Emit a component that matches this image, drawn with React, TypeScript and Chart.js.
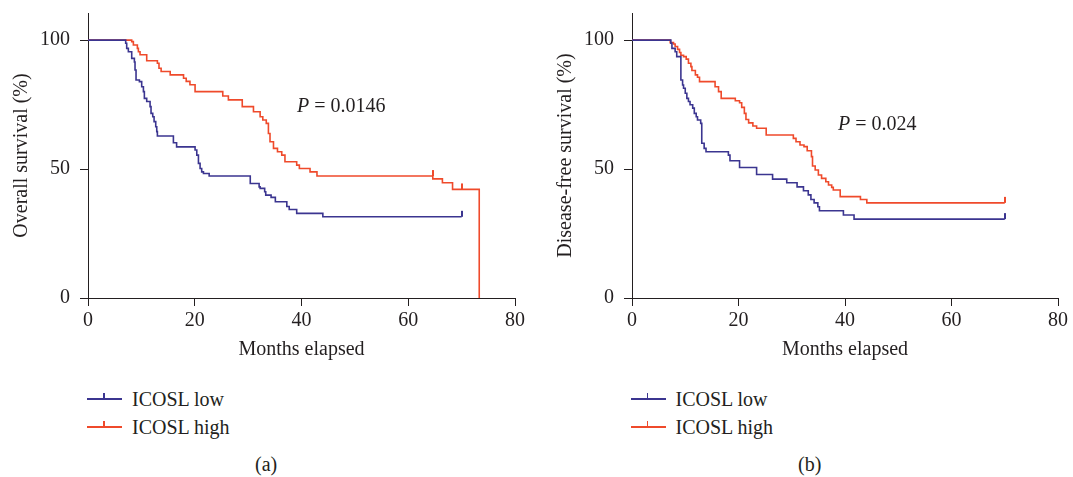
import React, { useEffect, useRef } from 'react';
import { Chart, registerables } from 'chart.js';

Chart.register(...registerables);

const BLUE = '#3b3590';
const RED = '#ef4a2b';
const TEXT = '#231f20';
const FONT_FAMILY = "'Liberation Serif', 'Times New Roman', serif";

const monthTicks = [0, 20, 40, 60, 80];
const survivalTicks = [0, 50, 100];
const seriesLabels = ['ICOSL low', 'ICOSL high'];

// Overall survival, ICOSL low
const osLowMonths = [0, 7.06, 7.25, 7.56, 8.19, 8.69, 8.81, 9.0, 9.63, 10.06, 10.38, 10.56, 11.0, 11.63, 11.81, 12.13, 12.38, 12.69, 12.88, 13.0, 16.0, 16.6, 20.06, 20.38, 20.69, 21.0, 21.3, 21.63, 22.7, 30.4, 32.06, 32.25, 33.1, 33.3, 34.3, 35.1, 37.25, 37.7, 39.1, 44.0, 70];
const osLowSurvival = [100, 98.8, 96.8, 95.5, 92.9, 91.5, 88.4, 84.5, 83.9, 81.9, 80.0, 77.4, 76.2, 74.2, 71.6, 70.3, 68.4, 66.4, 64.5, 62.8, 60.2, 58.6, 57.4, 55.4, 52.2, 50.2, 48.9, 48.3, 47.3, 44.4, 43.1, 42.5, 41.2, 39.9, 39.0, 37.3, 35.5, 34.3, 32.8, 31.5, 31.5];
const osLowCensorMonths = [70];
const osLowCensorSurvival = [31.5];

// Overall survival, ICOSL high
const osHighMonths = [0, 8.19, 8.5, 9.25, 9.44, 9.75, 11.0, 13.0, 13.3, 13.7, 15.4, 17.9, 18.4, 19.1, 20.06, 25.25, 26.3, 28.9, 31.0, 32.25, 32.75, 33.4, 33.8, 34.1, 34.75, 35.5, 36.3, 36.9, 39.1, 39.6, 41.6, 42.9, 64.6, 66.4, 68.3, 73.3];
const osHighSurvival = [100, 99.4, 98.1, 96.8, 95.5, 94.3, 92.0, 91.0, 89.1, 87.8, 86.5, 85.2, 84.0, 82.7, 80.0, 78.3, 76.8, 74.2, 72.2, 70.3, 69.0, 67.7, 63.8, 60.6, 58.0, 56.7, 55.4, 52.8, 51.5, 50.2, 48.9, 47.3, 46.2, 44.7, 42.1, 0];
const osHighCensorMonths = [64.6, 70];
const osHighCensorSurvival = [47.3, 42.1];

// Disease-free survival, ICOSL low
const dfsLowMonths = [0, 7.3, 7.5, 8.1, 8.4, 9.18, 9.5, 9.68, 10.0, 10.3, 10.6, 10.9, 11.4, 11.7, 12.06, 12.3, 12.9, 13.1, 13.55, 13.9, 18.1, 18.4, 20.2, 23.4, 26.4, 29.06, 31.0, 32.2, 33.1, 33.6, 34.2, 34.9, 35.2, 39.7, 41.7, 70];
const dfsLowSurvival = [100, 98.8, 96.8, 95.5, 93.6, 84.5, 82.6, 81.3, 79.4, 77.4, 76.2, 74.9, 73.6, 71.6, 70.3, 69.0, 67.7, 60.0, 58.0, 56.7, 55.4, 53.2, 50.6, 47.9, 46.1, 44.7, 43.1, 41.6, 40.0, 38.2, 36.9, 35.4, 33.8, 32.2, 30.6, 30.6];
const dfsLowCensorMonths = [70];
const dfsLowCensorSurvival = [30.6];

// Disease-free survival, ICOSL high
const dfsHighMonths = [0, 7.18, 7.8, 8.1, 8.56, 8.93, 9.18, 9.68, 10.18, 10.6, 11.06, 11.25, 11.9, 12.3, 12.68, 15.6, 16.25, 16.75, 19.4, 20.2, 20.6, 21.1, 21.4, 21.9, 22.7, 23.4, 25.2, 30.3, 30.8, 31.55, 32.3, 32.9, 33.7, 33.9, 34.4, 35.0, 35.6, 36.4, 36.9, 37.5, 37.8, 39.1, 42.9, 44.1, 70];
const dfsHighSurvival = [100, 99.0, 98.5, 97.5, 96.4, 95.2, 94.1, 93.6, 92.6, 91.0, 89.7, 88.2, 86.5, 85.6, 83.9, 81.9, 80.0, 77.4, 76.5, 75.7, 73.9, 71.6, 69.2, 67.9, 66.7, 65.8, 63.2, 61.9, 60.6, 59.3, 58.7, 57.1, 54.8, 51.2, 49.6, 47.7, 46.4, 45.1, 43.8, 42.9, 41.9, 39.3, 38.2, 36.9, 36.9];
const dfsHighCensorMonths = [70];
const dfsHighCensorSurvival = [36.9];

function toPoints(xs: number[], ys: number[]) {
  return xs.map((x, i) => ({ x, y: ys[i] }));
}

function censorImage(color: string) {
  const c = document.createElement('canvas');
  c.width = 2;
  c.height = 14;
  const ctx = c.getContext('2d');
  if (ctx) {
    ctx.fillStyle = color;
    ctx.fillRect(0, 1, 2, 6);
  }
  return c;
}

type Props = {
  left: number;
  width: number;
  height: number;
  rightPad: number;
  yTitle: string;
  lowMonths: number[];
  lowSurvival: number[];
  lowCensorMonths: number[];
  lowCensorSurvival: number[];
  highMonths: number[];
  highSurvival: number[];
  highCensorMonths: number[];
  highCensorSurvival: number[];
};

function KMChart(p: Props) {
  const ref = useRef<HTMLCanvasElement | null>(null);
  useEffect(() => {
    if (!ref.current) return;
    const font = { family: FONT_FAMILY, size: 20 };
    const chart = new Chart(ref.current, {
      type: 'line',
      data: {
        datasets: [
          {
            label: seriesLabels[0],
            data: toPoints(p.lowMonths, p.lowSurvival),
            borderColor: BLUE,
            borderWidth: 1.6,
            stepped: 'before',
            pointRadius: 0,
            fill: false,
          },
          {
            label: seriesLabels[1],
            data: toPoints(p.highMonths, p.highSurvival),
            borderColor: RED,
            borderWidth: 1.6,
            stepped: 'before',
            pointRadius: 0,
            fill: false,
          },
          {
            type: 'scatter',
            label: 'censor low',
            data: toPoints(p.lowCensorMonths, p.lowCensorSurvival),
            pointStyle: censorImage(BLUE),
            pointRadius: 4,
            showLine: false,
          },
          {
            type: 'scatter',
            label: 'censor high',
            data: toPoints(p.highCensorMonths, p.highCensorSurvival),
            pointStyle: censorImage(RED),
            pointRadius: 4,
            showLine: false,
          },
        ] as any,
      },
      options: {
        animation: false,
        responsive: false,
        maintainAspectRatio: false,
        layout: { padding: { left: 0, top: 13, right: p.rightPad, bottom: 0 } },
        plugins: { legend: { display: false }, tooltip: { enabled: false } },
        scales: {
          x: {
            type: 'linear',
            min: 0,
            max: 80,
            afterBuildTicks: (a: any) => {
              a.ticks = monthTicks.map((v) => ({ value: v }));
            },
            afterFit: (s: any) => {
              s.height = 72;
            },
            grid: { drawOnChartArea: false, drawTicks: true, tickLength: 8, color: TEXT, lineWidth: 1 },
            border: { display: true, color: TEXT, width: 1 },
            ticks: { color: TEXT, font, padding: 3, maxRotation: 0 },
            title: { display: true, text: 'Months elapsed', color: TEXT, font, padding: { top: 0, bottom: 8 } },
          },
          y: {
            type: 'linear',
            min: 0,
            max: 110.5,
            afterBuildTicks: (a: any) => {
              a.ticks = survivalTicks.map((v) => ({ value: v }));
            },
            afterFit: (s: any) => {
              s.width = 88;
              s.paddingTop = 0;
              s.paddingBottom = 0;
            },
            grid: { drawOnChartArea: false, drawTicks: true, tickLength: 8, color: TEXT, lineWidth: 1 },
            border: { display: true, color: TEXT, width: 1 },
            ticks: { color: TEXT, font, padding: 10 },
            title: { display: true, text: p.yTitle, color: TEXT, font, padding: { top: 10, bottom: 0 } },
          },
        },
      } as any,
    });
    return () => chart.destroy();
  }, []);
  return (
    <canvas
      ref={ref}
      width={p.width}
      height={p.height}
      style={{ position: 'absolute', left: p.left, top: 0, width: p.width, height: p.height }}
    />
  );
}

const textStyle: React.CSSProperties = {
  position: 'absolute',
  fontFamily: FONT_FAMILY,
  fontSize: 20,
  lineHeight: '24px',
  color: TEXT,
  whiteSpace: 'nowrap',
};

function Legend({ dx }: { dx: number }) {
  return (
    <>
      <div style={{ position: 'absolute', left: 87 + dx, top: 398, width: 35, height: 2, background: BLUE }} />
      <div style={{ position: 'absolute', left: 103 + dx, top: 393, width: 1.5, height: 6, background: BLUE }} />
      <span style={{ ...textStyle, left: 132 + dx, top: 387 }}>{seriesLabels[0]}</span>
      <div style={{ position: 'absolute', left: 87 + dx, top: 426, width: 35, height: 2, background: RED }} />
      <div style={{ position: 'absolute', left: 103 + dx, top: 421, width: 1.5, height: 6, background: RED }} />
      <span style={{ ...textStyle, left: 132 + dx, top: 415 }}>{seriesLabels[1]}</span>
    </>
  );
}

export default function App() {
  return (
    <div
      style={{
        position: 'absolute',
        left: 0,
        top: 0,
        width: 1073,
        height: 477,
        background: '#ffffff',
        overflow: 'hidden',
      }}
    >
      <KMChart
        left={0}
        width={540}
        height={370}
        rightPad={25}
        yTitle="Overall survival (%)"
        lowMonths={osLowMonths}
        lowSurvival={osLowSurvival}
        lowCensorMonths={osLowCensorMonths}
        lowCensorSurvival={osLowCensorSurvival}
        highMonths={osHighMonths}
        highSurvival={osHighSurvival}
        highCensorMonths={osHighCensorMonths}
        highCensorSurvival={osHighCensorSurvival}
      />
      <KMChart
        left={544}
        width={527}
        height={370}
        rightPad={13}
        yTitle="Disease-free survival (%)"
        lowMonths={dfsLowMonths}
        lowSurvival={dfsLowSurvival}
        lowCensorMonths={dfsLowCensorMonths}
        lowCensorSurvival={dfsLowCensorSurvival}
        highMonths={dfsHighMonths}
        highSurvival={dfsHighSurvival}
        highCensorMonths={dfsHighCensorMonths}
        highCensorSurvival={dfsHighCensorSurvival}
      />
      <span style={{ ...textStyle, left: 297, top: 93 }}>
        <i>P</i> = 0.0146
      </span>
      <span style={{ ...textStyle, left: 838, top: 111 }}>
        <i>P</i> = 0.024
      </span>
      <Legend dx={0} />
      <Legend dx={543.5} />
      <span style={{ ...textStyle, left: 255, top: 452 }}>(a)</span>
      <span style={{ ...textStyle, left: 798, top: 452 }}>(b)</span>
    </div>
  );
}
